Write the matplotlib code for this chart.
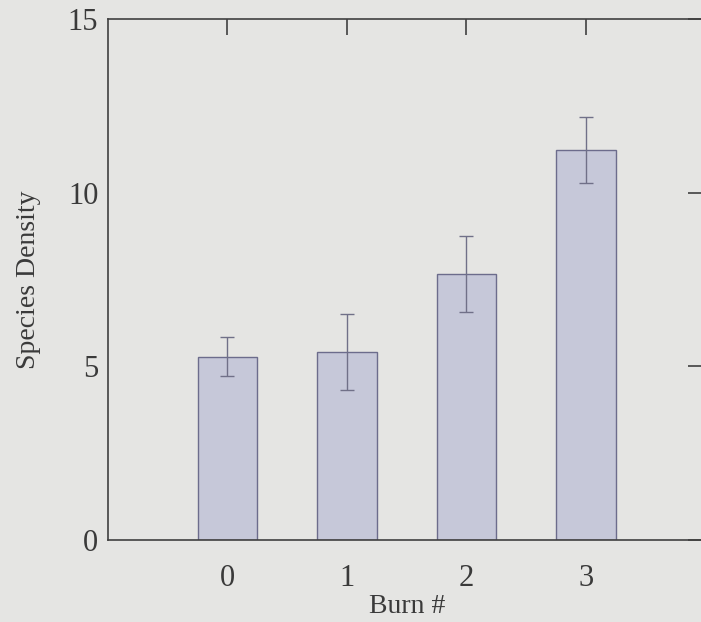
import matplotlib
matplotlib.use("Agg")
import matplotlib.pyplot as plt

burns = [0, 1, 2, 3]
density = [5.28, 5.41, 7.66, 11.23]
errors = [0.56, 1.09, 1.10, 0.95]
yticks = [0, 5, 10, 15]

bg = "#e5e5e3"
plt.rcParams['font.family'] = ['Liberation Serif', 'DejaVu Serif']

fig = plt.figure(figsize=(7.01, 6.22), dpi=100, facecolor=bg)
ax = fig.add_axes([108/701, 82/622, 597.4/701, 521/622], facecolor=bg)

ax.bar(burns, density, width=0.5, color="#c6c8d9", edgecolor="#6c6c8c", linewidth=1.0, zorder=2)
ax.errorbar(burns, density, yerr=errors, fmt='none', ecolor="#707088", elinewidth=1.0,
            capsize=5, capthick=1.0, zorder=3)

ax.set_xlim(-1, 4)
ax.set_ylim(0, 15)
ax.set_xticks(burns)
ax.set_xticklabels([str(b) for b in burns])
ax.set_yticks(yticks)

for s in ['left', 'bottom', 'top', 'right']:
    ax.spines[s].set_color("#404040")
    ax.spines[s].set_linewidth(1.2)

ax.tick_params(axis='x', bottom=False, top=True, labelbottom=True, labeltop=False,
               direction='in', length=11.5, width=1.2, color="#404040", pad=17,
               labelsize=22, labelcolor="#3a3a3a")
ax.tick_params(axis='y', left=False, right=True, labelleft=True, labelright=False,
               direction='in', length=12, width=1.2, color="#404040", pad=7,
               labelsize=22, labelcolor="#3a3a3a")

ax.set_xlabel("Burn #", fontsize=20, color="#3a3a3a", labelpad=1)
ax.set_ylabel("Species Density", fontsize=20, color="#3a3a3a", labelpad=19)

fig.savefig("out.png", dpi=100, facecolor=bg)
